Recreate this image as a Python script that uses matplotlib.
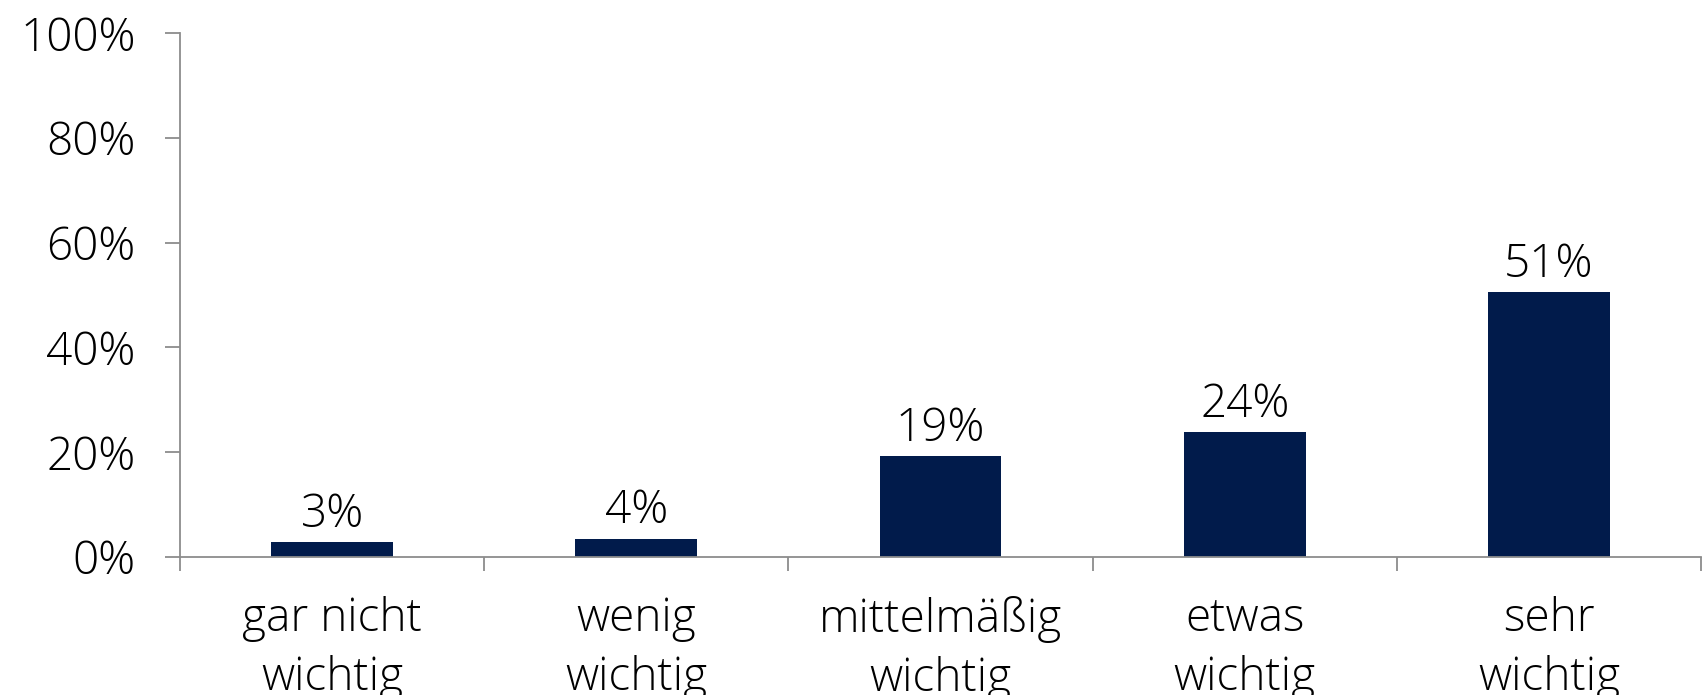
import numpy as np
import matplotlib.pyplot as plt
from matplotlib.ticker import FixedLocator, PercentFormatter

# data
categories = ['gar nicht\nwichtig', 'wenig\nwichtig', 'mittelmäßig\nwichtig',
              'etwas\nwichtig', 'sehr\nwichtig']
values = [2.9, 3.5, 19.2, 23.8, 50.6]
labels = ['3%', '4%', '19%', '24%', '51%']
yticks = [0, 20, 40, 60, 80, 100]

plt.rcParams['font.family'] = ['Open Sans', 'DejaVu Sans']
plt.rcParams['font.weight'] = 'light'

fig = plt.figure(figsize=(17.08, 6.95), dpi=100)
ax = fig.add_axes([0.1054, 0.1986, 0.8905, 0.7539])

x = np.arange(len(categories))
ax.bar(x, values, width=0.4, color='#011b4b')

for xi, v, lab in zip(x, values, labels):
    ax.text(xi, v + 0.8, lab, ha='center', va='bottom', fontsize=33)

ax.set_xlim(-0.5, len(categories) - 0.5)
ax.set_ylim(0, 100)

ax.set_xticks(x)
ax.set_xticklabels(categories, fontsize=33, linespacing=1.38)
ax.xaxis.set_minor_locator(FixedLocator(np.arange(len(categories) + 1) - 0.5))
ax.tick_params(axis='x', which='major', length=0, pad=28)
ax.tick_params(axis='x', which='minor', length=10, width=1.3, color='#8c8c8c', direction='out')

ax.set_yticks(yticks)
ax.yaxis.set_major_formatter(PercentFormatter(decimals=0))
ax.tick_params(axis='y', length=11, width=1.3, color='#8c8c8c', labelsize=33, pad=21)

for s in ['top', 'right']:
    ax.spines[s].set_visible(False)
for s in ['left', 'bottom']:
    ax.spines[s].set_color('#8c8c8c')
    ax.spines[s].set_linewidth(1.3)

fig.savefig('out.png', dpi=100)
